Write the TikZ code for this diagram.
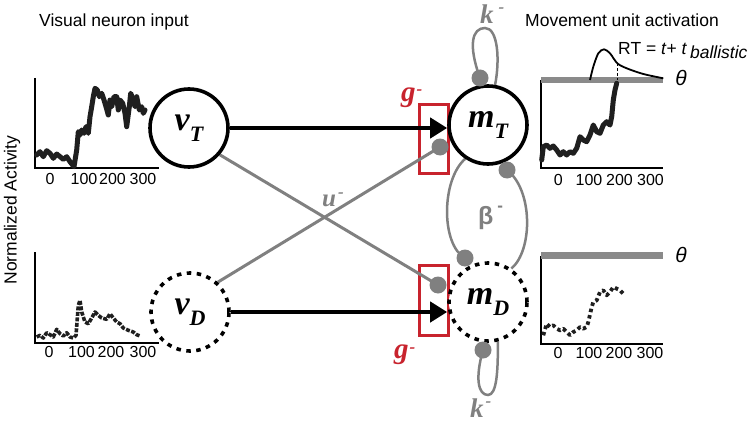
\documentclass[tikz,border=0pt]{standalone}
\usepackage{fontspec}
\setmainfont{Liberation Sans}
\newfontfamily\serifface{Liberation Serif}
\usetikzlibrary{arrows.meta}
\pgfdeclarelayer{boxes}
\pgfdeclarelayer{lines}
\pgfsetlayers{boxes,lines,main}
\definecolor{gr}{RGB}{128,128,128}
\definecolor{thr}{RGB}{138,138,138}
\definecolor{rd}{RGB}{200,35,45}
\newcommand\supd[1]{\raisebox{#1}{\fontsize{17}{17}\selectfont -}}
\newcommand\nlab[2]{{\serifface\bfseries\itshape\fontsize{34}{34}\selectfont #1\raisebox{-11pt}{\fontsize{22}{22}\selectfont #2}}}
\tikzset{
  neuron/.style={circle, draw=black, line width=3.6pt, fill=white, minimum size=78pt, inner sep=0pt},
  dneuron/.style={neuron, dash pattern=on 4.5pt off 5.5pt},
  gdot/.style={circle, fill=gr, minimum size=17pt, inner sep=0pt},
  gline/.style={draw=gr, line width=3pt},
  loopl/.style={draw=gr, line width=2.5pt},
  barrow/.style={draw=black, line width=4pt, -{Triangle[length=17pt,width=20pt]}},
  redbox/.style={draw=rd, line width=3pt},
  axisl/.style={draw=black, line width=1.4pt},
  thbar/.style={draw=thr, line width=6.5pt},
  txt/.style={font=\fontsize{17.5}{20}\selectfont, inner sep=0pt},
  tick/.style={font=\fontsize{16}{20}\selectfont, inner sep=0pt},
  theta/.style={font=\fontsize{21}{24}\selectfont\itshape, inner sep=0pt},
  glab/.style={text=gr, font=\serifface\bfseries\itshape\fontsize{27}{30}\selectfont, inner sep=0pt, anchor=base west},
  rlab/.style={text=rd, font=\serifface\bfseries\itshape\fontsize{29}{32}\selectfont, inner sep=0pt, anchor=base west},
  traceA/.style={draw=black!88, line width=5pt, line join=round, line cap=round},
  traceB/.style={draw=black!88, line width=3.6pt, line join=round, dash pattern=on 4pt off 1.5pt},
  traceC/.style={draw=black!88, line width=3.8pt, line join=round, dash pattern=on 3.5pt off 3pt},
}
\begin{document}
\begin{tikzpicture}[x=1pt,y=-1pt]
\useasboundingbox (0,0) rectangle (751,425);

% titles
\node[txt, anchor=base west] (tvis) at (39,27) {Visual neuron input};
\node[txt, anchor=base west] (tmov) at (525,27) {Movement unit activation};
\node[txt, rotate=90] (tnorm) at (12,210) {Normalized Activity};

% ---------- top-left plot
\draw[axisl] (35,78) -- (35,168) -- (159,168);
\node[tick] at (50,179) {0};
\node[tick] at (84,179) {100};
\node[tick] at (112.5,179) {200};
\node[tick] at (143,179) {300};
\draw[traceA] plot coordinates {(36.7,155) (40,151.7) (43.3,156.7) (46.7,150.7) (50,153.3) (53.3,158.3) (56.7,154) (60,156.7) (63.3,159.3) (66.7,156.7) (70,161.7) (74,166.7) (76.7,150) (78.3,131.7) (80,135) (81.7,130) (84,133.3) (86,126.7) (88.3,133.3) (90,116.7) (91.7,106.7) (93.3,96.7) (95,88.3) (97.3,90) (99.3,96.7) (101.7,93.3) (104,100) (106,106.7) (108.3,115) (110,100) (111.7,106.7) (114,96.7) (116.7,96.7) (118.3,110) (120,100) (122.7,103.3) (125,113.3) (126.7,126.7) (129.3,106.7) (130.7,93.3) (133.3,100) (135,106.7) (136.7,96.7) (139.3,110) (141.7,106.7) (143.3,113.3) (145,110)};

% ---------- bottom-left plot
\draw[axisl] (35,252) -- (35,343) -- (159,343);
\node[tick] at (49,352) {0};
\node[tick] at (81.5,352) {100};
\node[tick] at (111,352) {200};
\node[tick] at (143,352) {300};
\draw[traceB] plot coordinates {(36.7,337) (40,335.3) (43.3,338) (46.7,332.7) (50,334.7) (53.3,337) (56.7,329.3) (60,333.7) (63.3,336) (66.7,332.7) (70,337) (73.3,338) (76,335.3) (78.3,305.3) (80,300.3) (81.7,312) (85,322) (88.3,323.7) (91.7,318) (95,312) (98.3,315.3) (101.7,318) (106.7,319.3) (110,313.7) (113.3,318) (116.7,322) (120,323.7) (123.3,328) (128.3,330.3) (133.3,332) (136.7,334.7) (140,336)};

% ---------- top-right plot
\draw[axisl] (541,80) -- (541,168) -- (663,168);
\draw[thbar] (541,80) -- (663,80);
\node[theta] at (681,78) {θ};
\node[tick] at (558.3,180) {0};
\node[tick] at (589,180) {100};
\node[tick] at (619.5,180) {200};
\node[tick] at (650.5,180) {300};
\draw[traceA] plot coordinates {(541.7,160) (543.3,146.7) (546.7,145) (550,148.3) (553.3,146) (556.7,150) (560,155) (563.3,151.7) (566.7,155) (570,151.7) (573.3,153.3) (576.7,148.3) (580,136.7) (583.3,140) (586.7,141.7) (590,135) (593.3,125) (596.7,131.7) (600,133.3) (603.3,125) (606.7,121.7) (610,125) (611.7,116.7) (613.3,100) (615,90) (616.7,83.3)};
\draw[line width=1.8pt] plot[smooth] coordinates {(590,80) (593.3,66.7) (598.3,53.3) (604,49.3) (610,53.3) (617.3,63.3) (626.7,68.3) (643.3,74) (663.3,78.3)};
\draw[line width=0.9pt, densely dashed] (617.3,63.3) -- (617.3,80);
\node[txt, anchor=base west] (trt) at (618,55) {RT = \textit{t}+ \textit{t}\,\raisebox{-4pt}{\textit{ballistic}}};

% ---------- bottom-right plot
\draw[axisl] (541,255.5) -- (541,344) -- (663,344);
\draw[thbar] (541,255.5) -- (663,255.5);
\node[theta] at (681,255) {θ};
\node[tick] at (558,353) {0};
\node[tick] at (589,353) {100};
\node[tick] at (619,353) {200};
\node[tick] at (650,353) {300};
\draw[traceC] plot coordinates {(543.3,335.3) (546.7,323.7) (550,327) (553.3,325.3) (556.7,328.7) (560,330.3) (563.3,328.7) (566.7,332) (570,335.3) (573.3,332) (576.7,330.3) (580,327) (583.3,328.7) (586.7,327) (588.3,322) (591.7,307) (593.3,302) (596.7,300.3) (600,292) (603.3,290.3) (606.7,295.3) (610,292) (613.3,287) (616.7,288.7) (620,290.3) (623.3,293.7)};

% ---------- network nodes
\node[neuron] (vT) at (189,128) {\nlab{v}{T}};
\node[dneuron] (vD) at (190,312) {\nlab{v}{D}};
\node[neuron] (mT) at (488,125) {\nlab{m}{T}};
\node[dneuron] (mD) at (488,302) {\nlab{m}{D}};

\node[gdot] (dkT) at (480,78) {};
\node[gdot] (duT) at (440,147) {};
\node[gdot] (dbT) at (507,170) {};
\node[gdot] (dbD) at (465,258) {};
\node[gdot] (duD) at (438,285) {};
\node[gdot] (dkD) at (483,350) {};

% gain boxes
\begin{pgfonlayer}{boxes}
\coordinate (bxT1) at (419,105); \coordinate (bxT2) at (448,173);
\coordinate (bxD1) at (419,265); \coordinate (bxD2) at (448,335);
\draw[redbox] (bxT1) rectangle (bxT2);
\draw[redbox] (bxD1) rectangle (bxD2);
\end{pgfonlayer}

% connectors
\begin{pgfonlayer}{lines}
\draw[gline] (vT.-41) -- (duD.center);
\draw[gline] (vD.47) -- (duT.center);
\draw[barrow] (vT.east) -- (vT.east -| mT.west);
\draw[barrow] (vD.east) -- (vD.east -| mD.west);
\draw[loopl] (dkT.center) .. controls (468,45) and (472,28) .. (485,28) .. controls (498,28) and (500,60) .. (mT.80);
\draw[loopl] (dkD.center) .. controls (475,378) and (478,395) .. (488,395) .. controls (497,395) and (498,370) .. (mD.-76);
\draw[loopl] (mT.-124) .. controls (441,180) and (441,245) .. (dbD.center);
\draw[loopl] (dbT.center) .. controls (533,190) and (533,250) .. (mD.55);
\end{pgfonlayer}

% labels
\node[glab] (lkT) at (480,24) {k\hspace{5pt}\supd{11pt}};
\node[glab] (lkD) at (470,417) {k\hspace{2pt}\supd{11pt}};
\node[rlab] (lgT) at (401,102) {g\hspace{1pt}\supd{7pt}};
\node[rlab] (lgD) at (394,358) {g\hspace{1pt}\supd{6pt}};
\node[glab, font=\serifface\bfseries\itshape\fontsize{25}{28}\selectfont] (lu) at (322,206) {u\hspace{2pt}\supd{9pt}};
\node[glab, font=\bfseries\fontsize{25}{28}\selectfont] (lb) at (478,224) {β\hspace{4pt}\supd{13pt}};

\end{tikzpicture}
\end{document}
